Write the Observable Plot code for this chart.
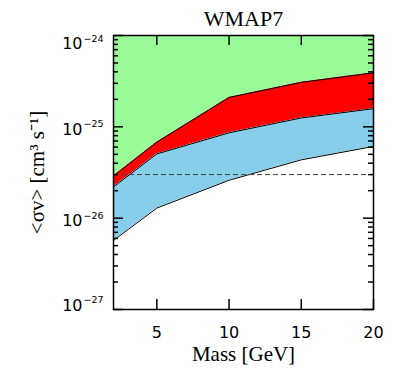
<!DOCTYPE html>
<html><head><meta charset="utf-8">
<script src="https://cdn.jsdelivr.net/npm/d3@7"></script>
<script src="https://cdn.jsdelivr.net/npm/@observablehq/plot@0.6"></script>
<style>body{margin:0;background:#fff}</style>
</head><body><div id="chart"></div>
<script>
const mass = [2, 5, 10, 15, 20];
const redTop = [2.9e-26, 6.8e-26, 2.1e-25, 3.07e-25, 3.9e-25];
const blueTop = [2.2e-26, 5.05e-26, 8.6e-26, 1.25e-25, 1.58e-25];
const blueBottom = [5.7e-27, 1.29e-26, 2.6e-26, 4.35e-26, 6.1e-26];
const thermal = [3e-26];
const yMajor = [1e-27, 1e-26, 1e-25, 1e-24];
const yExp = ["−27", "−26", "−25", "−24"];
const xTicks = [5, 10, 15, 20];
const xTopTicks = [5, 10, 15];
const title = "WMAP7";
const xLabel = "Mass [GeV]";
const yLabel = "<σv> [cm³ s⁻¹]";

const yMinor = [];
for (let i = 0; i < yMajor.length - 1; i++) for (let k = 2; k <= 9; k++) yMinor.push(yMajor[i] * k);
const yTop = yMajor[yMajor.length - 1];

const rows = mass.map((m, i) => ({mass: m, redTop: redTop[i], blueTop: blueTop[i], blueBottom: blueBottom[i]}));
const yLab = yMajor.map((v, i) => ({v, e: yExp[i]}));

const W = 407, H = 382, ML = 113, MR = 34, MT = 35, MB = 73;
const FW = W - ML - MR, FH = H - MT - MB;
const major = 10, minor = 5;

const numFont = "DejaVu Sans";
const txtFont = "Liberation Serif";
function yLabels(data, dy) {
  return [
    Plot.text(data, {y: "v", text: () => "10", frameAnchor: "left", textAnchor: "end", dx: -31, lineAnchor: "bottom", dy, fontSize: 16, fontFamily: numFont, fill: "#000"}),
    Plot.text(data, {y: "v", text: "e", frameAnchor: "left", textAnchor: "start", dx: -30, lineAnchor: "bottom", dy: dy - 7.5, fontSize: 9.5, fontFamily: numFont, fill: "#000"})
  ];
}
const tk = {stroke: "#000", strokeWidth: 1.5};

const chart = Plot.plot({
  width: W, height: H,
  marginLeft: ML, marginRight: MR, marginTop: MT, marginBottom: MB,
  x: {domain: [2, 20], axis: null},
  y: {type: "log", domain: [yMajor[0], yTop], axis: null},
  style: {fontFamily: txtFont, background: "#fff", color: "#000"},
  marks: [
    Plot.areaY(rows, {x: "mass", y1: "redTop", y2: () => yTop, fill: "#98fb98"}),
    Plot.areaY(rows, {x: "mass", y1: "blueTop", y2: "redTop", fill: "#ff0000"}),
    Plot.areaY(rows, {x: "mass", y1: "blueBottom", y2: "blueTop", fill: "#87ceeb"}),
    Plot.lineY(rows, {x: "mass", y: "redTop", stroke: "#000", strokeWidth: 1}),
    Plot.lineY(rows, {x: "mass", y: "blueTop", stroke: "#000", strokeWidth: 1}),
    Plot.lineY(rows, {x: "mass", y: "blueBottom", stroke: "#000", strokeWidth: 1}),
    Plot.ruleY(thermal, {stroke: "#444", strokeWidth: 1, strokeDasharray: "5,3"}),
    Plot.tickX(xTicks, {x: d => d, insetTop: FH - major, ...tk}),
    Plot.tickX(xTopTicks, {x: d => d, insetBottom: FH - major, ...tk}),
    Plot.tickY(yMajor, {y: d => d, insetRight: FW - major, ...tk}),
    Plot.tickY(yMinor, {y: d => d, insetRight: FW - minor, ...tk}),
    Plot.tickY(yMajor, {y: d => d, insetLeft: FW - major, ...tk}),
    Plot.tickY(yMinor, {y: d => d, insetLeft: FW - minor, ...tk}),
    Plot.frame({stroke: "#000", strokeWidth: 1.5}),
    Plot.text(xTicks, {x: d => d, frameAnchor: "bottom", lineAnchor: "bottom", dy: 28, fontSize: 16, fontFamily: numFont, fill: "#000"}),
    ...yLabels(yLab.slice(3), 13.5),
    ...yLabels(yLab.slice(1, 3), 8),
    ...yLabels(yLab.slice(0, 1), 1),
    Plot.text([title], {frameAnchor: "top", lineAnchor: "bottom", dy: -10, fontSize: 22, fontFamily: txtFont, fill: "#000"}),
    Plot.text([xLabel], {frameAnchor: "bottom", lineAnchor: "bottom", dy: 51, fontSize: 21, fontFamily: txtFont, fill: "#000"}),
    Plot.text([yLabel], {frameAnchor: "left", textAnchor: "middle", dx: -76, rotate: -90, lineAnchor: "middle", fontSize: 21, fontFamily: txtFont, fill: "#000"})
  ]
});
document.getElementById("chart").append(chart);
</script>
</body></html>
